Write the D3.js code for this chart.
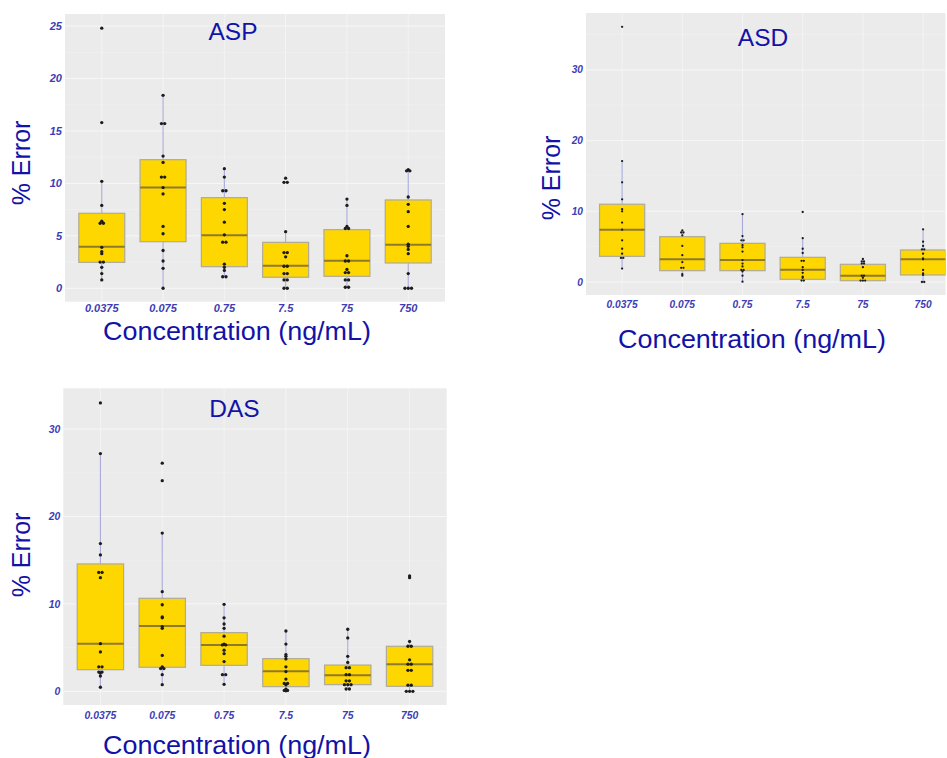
<!DOCTYPE html>
<html><head><meta charset="utf-8">
<script src="https://cdn.jsdelivr.net/npm/d3@7"></script>
<style>body{margin:0;background:#fff;overflow:hidden}svg{display:block}</style>
</head><body><svg id="c" width="947" height="758"></svg>
<script>
const categories = ["0.0375","0.075","0.75","7.5","75","750"];

// ---- ASP ----
const aspPoints = [
  [24.8,15.8,10.2,7.9,6.4,6.2,6.2,3.9,3.5,3.3,2.5,2.5,2.0,1.4,0.8],
  [18.4,15.7,15.7,12.6,12.0,10.6,10.6,9.6,9.0,5.9,5.2,3.6,2.6,1.9,0],
  [11.4,10.6,9.3,9.3,8.1,7.5,6.3,5.1,4.4,4.4,2.3,2.0,1.7,1.1,1.1],
  [10.5,10.1,10.1,5.4,3.4,3.4,3.0,2.1,2.1,1.4,1.4,0.8,0.8,0,0],
  [8.5,7.9,5.9,5.7,5.7,3.1,2.6,2.6,1.8,1.5,1.5,0.8,0.8,0.1,0.1],
  [11.3,11.2,11.2,8.7,8.0,7.3,5.9,4.2,4.0,3.7,3.3,1.4,0,0,0]
];
const aspQ1     = [2.47,4.44,2.06,1.05,1.14,2.41];
const aspMedian = [3.97,9.6,5.05,2.15,2.63,4.16];
const aspQ3     = [7.15,12.26,8.64,4.38,5.59,8.42];
const aspLow    = [0.8,0,1.1,0,0.1,0];
const aspHigh   = [10.2,18.4,11.4,5.4,8.5,11.3];
const aspTicks  = [0,5,10,15,20,25];

// ---- ASD ----
const asdPoints = [
  [36.1,17.1,14.1,11.7,10.3,10.0,8.4,7.4,5.9,4.7,4.0,3.4,3.4,1.9],
  [7.3,7.0,7.0,6.6,5.1,3.8,2.8,2.0,2.0,1.1,0.9],
  [9.6,6.5,5.9,5.9,5.2,4.9,4.3,3.1,2.6,2.2,1.7,1.7,1.5,0.9,0.05],
  [9.9,6.2,4.7,4.1,3.0,3.0,2.1,1.7,1.3,0.75,0.6,0.2,0.2],
  [3.25,2.9,2.9,2.6,2.6,2.1,0.9,0.9,0.6,0.2,0.2,0.2],
  [7.45,5.7,5.1,4.6,4.6,4.0,3.35,3.2,1.7,1.2,1.0,0,0]
];
const asdQ1     = [3.63,1.6,1.6,0.38,0.18,0.99];
const asdMedian = [7.4,3.2,3.11,1.74,0.9,3.2];
const asdQ3     = [11.0,6.41,5.47,3.49,2.5,4.53];
const asdLow    = [1.93,0.85,0.05,0.18,0.18,0];
const asdHigh   = [17.07,7.26,9.62,6.18,3.25,7.45];
const asdTicks  = [0,10,20,30];

// ---- DAS ----
const dasPoints = [
  [33.0,27.2,16.9,15.6,13.6,13.6,13.0,5.45,4.5,2.8,2.8,2.2,2.2,2.1,1.75,0.46],
  [26.1,24.1,18.1,11.4,9.9,8.5,8.4,7.4,7.2,4.1,2.8,2.6,2.6,1.9,0.76],
  [9.95,8.4,7.7,7.2,6.3,5.4,5.3,5.3,4.7,4.3,3.4,1.9,1.9,0.8],
  [6.9,5.4,4.2,4.0,3.7,2.8,2.25,1.4,0.9,0.9,0.75,0.25,0.1,0.1,0.05],
  [7.1,6.1,4.0,3.3,2.7,2.7,1.9,1.9,1.2,1.2,0.76,0.76,0.76,0.26,0.26],
  [13.2,13.0,5.7,5.15,5.15,3.6,3.1,3.1,2.4,2.4,0.7,0.7,0,0,0]
];
const dasQ1     = [2.47,2.75,2.97,0.53,0.76,0.57];
const dasMedian = [5.45,7.47,5.3,2.29,1.83,3.09];
const dasQ3     = [14.57,10.64,6.71,3.73,3.0,5.15];
const dasLow    = [0.46,0.76,0.8,0,0.26,0];
const dasHigh   = [27.15,18.1,9.95,6.93,7.09,5.72];
const dasTicks  = [0,10,20,30];

const titles = ["ASP","ASD","DAS"];
const yTitle = "% Error";
const xTitle = "Concentration (ng/mL)";

const svg = d3.select("#c");
const BLUE = "#1212a8";
const TICKBLUE = "#3d3db5";

const panels = [
  {title:titles[0], pts:aspPoints, q1:aspQ1, med:aspMedian, q3:aspQ3, lo:aspLow, hi:aspHigh, ticks:aspTicks,
   x0:65, x1:445, clipR:445, y0:14, y1:301.7, dom:[-1.28,26.15], r:1.65, tickFont:11,
   titleX:233, titleY:39.5, yTitleX:21, yTitleY:163, xTitleX:237, xTitleY:340, xLabY:308.5},
  {title:titles[1], pts:asdPoints, q1:asdQ1, med:asdMedian, q3:asdQ3, lo:asdLow, hi:asdHigh, ticks:asdTicks,
   x0:586, x1:959.2, clipR:945.5, y0:13, y1:295, dom:[-1.84,38.05], r:1.15, tickFont:10.2,
   titleX:763, titleY:45.7, yTitleX:551, yTitleY:178, xTitleX:752, xTitleY:348, xLabY:304},
  {title:titles[2], pts:dasPoints, q1:dasQ1, med:dasMedian, q3:dasQ3, lo:dasLow, hi:dasHigh, ticks:dasTicks,
   x0:63.3, x1:446.7, clipR:446.7, y0:388.3, y1:705, dom:[-1.57,34.67], r:1.65, tickFont:10.4,
   titleX:234.5, titleY:417.3, yTitleX:21.5, yTitleY:555, xTitleX:237, xTitleY:754, xLabY:715}
];

panels.forEach(p => {
  const g = svg.append("g");
  const x = d3.scalePoint().domain(categories).range([p.x0, p.x1]).padding(0.6);
  const y = d3.scaleLinear().domain(p.dom).range([p.y1, p.y0]);
  const step = x.step();
  const clipId = "clip" + p.title;
  const w = p.clipR - p.x0;
  svg.append("clipPath").attr("id", clipId).append("rect")
    .attr("x", p.x0).attr("y", p.y0).attr("width", w).attr("height", p.y1 - p.y0);

  g.append("rect").attr("x", p.x0).attr("y", p.y0).attr("width", w).attr("height", p.y1 - p.y0)
    .attr("fill", "#ebebeb");

  const gg = g.append("g").attr("clip-path", `url(#${clipId})`);
  const dt = p.ticks[1] - p.ticks[0];
  const minor = d3.range(p.ticks[0] + dt/2, p.dom[1], dt);
  gg.selectAll(".mn").data(minor).join("line")
    .attr("x1", p.x0).attr("x2", p.x1).attr("y1", d => y(d)).attr("y2", d => y(d))
    .attr("stroke", "#f2f2f2").attr("stroke-width", 0.6);
  gg.selectAll(".mj").data(p.ticks).join("line")
    .attr("x1", p.x0).attr("x2", p.x1).attr("y1", d => y(d)).attr("y2", d => y(d))
    .attr("stroke", "#f7f7f7").attr("stroke-width", 1);
  gg.selectAll(".vx").data(categories).join("line")
    .attr("x1", d => x(d)).attr("x2", d => x(d)).attr("y1", p.y0).attr("y2", p.y1)
    .attr("stroke", "#f5f5f5").attr("stroke-width", 0.9);

  const bw = step * 0.75;
  categories.forEach((c, i) => {
    const cx = x(c);
    gg.append("line").attr("x1", cx).attr("x2", cx).attr("y1", y(p.hi[i])).attr("y2", y(p.q3[i]))
      .attr("stroke", "#a9a9dc").attr("stroke-width", 1.1);
    gg.append("line").attr("x1", cx).attr("x2", cx).attr("y1", y(p.q1[i])).attr("y2", y(p.lo[i]))
      .attr("stroke", "#a9a9dc").attr("stroke-width", 1.1);
    gg.append("rect").attr("x", cx - bw/2).attr("y", y(p.q3[i])).attr("width", bw)
      .attr("height", y(p.q1[i]) - y(p.q3[i]))
      .attr("fill", "#ffd700").attr("stroke", "#b0aa98").attr("stroke-width", 1.2);
    gg.append("line").attr("x1", cx - bw/2).attr("x2", cx + bw/2).attr("y1", y(p.med[i])).attr("y2", y(p.med[i]))
      .attr("stroke", "#8f7a2c").attr("stroke-width", 2);
  });

  categories.forEach((c, i) => {
    const groups = d3.group(p.pts[i], v => v);
    groups.forEach((arr, v) => {
      arr.forEach((_, k) => {
        gg.append("circle").attr("cx", x(c) + (k - (arr.length - 1)/2) * p.r * 2)
          .attr("cy", y(v)).attr("r", p.r).attr("fill", "#1c1c1c");
      });
    });
  });

  g.selectAll(".yl").data(p.ticks).join("text")
    .attr("x", p.x0 - 3).attr("y", d => y(d)).attr("dy", "0.35em").attr("text-anchor", "end")
    .attr("font-family", "Liberation Sans, Arial, sans-serif").attr("font-size", p.tickFont)
    .attr("font-style", "italic").attr("font-weight", "bold").attr("fill", TICKBLUE).text(d => d);
  g.selectAll(".xl").data(categories).join("text")
    .attr("x", d => x(d)).attr("y", p.xLabY).attr("dy", "0.35em").attr("text-anchor", "middle")
    .attr("font-family", "Liberation Sans, Arial, sans-serif").attr("font-size", p.tickFont)
    .attr("font-style", "italic").attr("font-weight", "bold").attr("fill", TICKBLUE).text(d => d);

  g.append("text").attr("x", p.titleX).attr("y", p.titleY).attr("text-anchor", "middle")
    .attr("font-family", "Liberation Sans, Arial, sans-serif").attr("font-size", 24.5).attr("fill", BLUE)
    .text(p.title);
  g.append("text").attr("transform", `translate(${p.yTitleX},${p.yTitleY}) rotate(-90)`)
    .attr("dy", "0.35em").attr("text-anchor", "middle")
    .attr("font-family", "Liberation Sans, Arial, sans-serif").attr("font-size", 25).attr("fill", BLUE)
    .text(yTitle);
  g.append("text").attr("x", p.xTitleX).attr("y", p.xTitleY).attr("text-anchor", "middle")
    .attr("font-family", "Liberation Sans, Arial, sans-serif").attr("font-size", 25).attr("fill", BLUE)
    .attr("textLength", 268).attr("lengthAdjust", "spacingAndGlyphs")
    .text(xTitle);
});
</script></body></html>
